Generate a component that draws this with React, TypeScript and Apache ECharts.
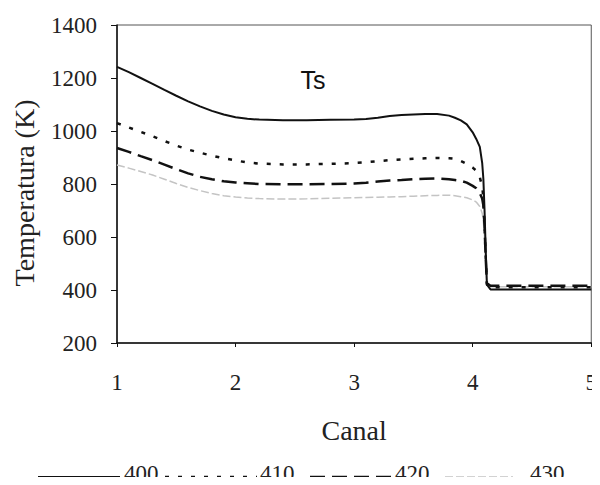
import React, { useEffect, useRef } from "react";
import * as echarts from "echarts";

const canal = [1, 1.1, 1.2, 1.3, 1.4, 1.5, 1.6, 1.7, 1.8, 1.9, 2, 2.1, 2.2, 2.4, 2.6, 2.8, 3, 3.1, 3.2, 3.3, 3.4, 3.5, 3.6, 3.7, 3.8, 3.85, 3.9, 3.95, 4, 4.03, 4.06, 4.08, 4.09, 4.1, 4.11, 4.12, 4.15, 4.3, 5];
const t400 = [1242, 1222, 1200, 1178, 1155, 1133, 1112, 1093, 1076, 1062, 1052, 1046, 1043, 1041, 1041, 1042, 1043, 1045, 1050, 1057, 1060, 1062, 1064, 1064, 1058, 1050, 1040, 1025, 995, 970, 940, 880, 820, 700, 550, 420, 402, 402, 402];
const t410 = [1030, 1013, 997, 980, 962, 945, 930, 918, 907, 897, 889, 881, 877, 874, 874, 876, 879, 882, 886, 890, 893, 895, 897, 898, 897, 895, 887, 876, 862, 850, 826, 790, 750, 640, 520, 420, 410, 410, 410];
const t420 = [936, 921, 905, 890, 873, 856, 840, 827, 818, 810, 806, 803, 800, 799, 799, 800, 802, 805, 809, 813, 815, 818, 820, 821, 818, 815, 812, 805, 793, 784, 766, 745, 720, 640, 520, 425, 416, 416, 416];
const t430 = [872, 860, 847, 834, 818, 802, 787, 775, 764, 756, 751, 747, 745, 743, 744, 746, 748, 749, 750, 751, 752, 754, 756, 757, 758, 756, 752, 748, 740, 732, 715, 690, 660, 600, 500, 420, 412, 412, 412];
const seriesNames = ["400", "410", "420", "430"];
const xTicks = [1, 2, 3, 4, 5];
const yTicks = [200, 400, 600, 800, 1000, 1200, 1400];

const serif = "'Liberation Serif', 'DejaVu Serif', serif";

export default function App() {
  const ref = useRef<HTMLDivElement>(null);
  useEffect(() => {
    if (!ref.current) return;
    const chart = echarts.init(ref.current, undefined, { renderer: "svg" });
    const pairs = (ys: number[]) => canal.map((x, i) => [x, ys[i]]);
    const styles = [
      { color: "#111", width: 2, dash: null as any },
      { color: "#111", width: 2.5, dash: [4, 9] },
      { color: "#111", width: 2.5, dash: [15, 7] },
      { color: "#c4c4c4", width: 1.5, dash: [8, 3] },
    ];
    const data = [t400, t410, t420, t430];
    const legendPos = [
      { x1: 38, x2: 120, tx: 124 },
      { x1: 165, x2: 257, tx: 260 },
      { x1: 310, x2: 392, tx: 395 },
      { x1: 445, x2: 513, tx: 530 },
    ];
    const legendLineY = 477;
    const legendTextY = 473;
    const legendGraphics: any[] = [];
    legendPos.forEach((p, i) => {
      legendGraphics.push({
        type: "line",
        shape: { x1: p.x1, y1: legendLineY, x2: p.x2, y2: legendLineY },
        style: {
          stroke: styles[i].color,
          lineWidth: styles[i].width,
          lineDash: styles[i].dash || undefined,
        },
      });
      legendGraphics.push({
        type: "text",
        x: p.tx,
        y: legendTextY,
        style: {
          text: seriesNames[i],
          font: `23px ${serif}`,
          fill: "#222",
          align: "left",
          verticalAlign: "middle",
        },
      });
    });
    chart.setOption({
      animation: false,
      backgroundColor: "#fff",
      grid: {
        left: 117,
        right: 6,
        top: 25,
        bottom: 142,
        show: true,
        borderColor: "#555",
        borderWidth: 1,
      },
      xAxis: {
        type: "value",
        min: xTicks[0],
        max: xTicks[xTicks.length - 1],
        interval: 1,
        axisLine: { show: true, lineStyle: { color: "#111", width: 1.5 } },
        axisTick: { show: true, length: 4, lineStyle: { color: "#111" } },
        splitLine: { show: false },
        axisLabel: { fontFamily: serif, fontSize: 23, color: "#222", margin: 28 },
        name: "Canal",
        nameLocation: "middle",
        nameGap: 73,
        nameTextStyle: { fontFamily: serif, fontSize: 28, color: "#222" },
      },
      yAxis: {
        type: "value",
        min: yTicks[0],
        max: yTicks[yTicks.length - 1],
        interval: 200,
        axisLine: { show: true, lineStyle: { color: "#111", width: 1.5 } },
        axisTick: { show: true, length: 6, lineStyle: { color: "#111" } },
        splitLine: { show: false },
        axisLabel: {
          fontFamily: serif,
          fontSize: 23,
          color: "#222",
          margin: 20,
          formatter: (v: number) => String(v),
        },
      },
      graphic: [
        {
          type: "text",
          x: 24,
          y: 193,
          rotation: Math.PI / 2,
          style: {
            text: "Temperatura (K)",
            font: `28px ${serif}`,
            fill: "#222",
            align: "center",
            verticalAlign: "middle",
          },
        },
        {
          type: "text",
          x: 313,
          y: 80,
          style: {
            text: "Ts",
            font: "25px 'Liberation Sans', Arial, sans-serif",
            fill: "#111",
            align: "center",
            verticalAlign: "middle",
          },
        },
        ...legendGraphics,
      ],
      series: data.map((ys, i) => ({
        name: seriesNames[i],
        type: "line",
        data: pairs(ys),
        symbol: "none",
        smooth: false,
        lineStyle: {
          color: styles[i].color,
          width: styles[i].width,
          type: styles[i].dash || "solid",
        },
        itemStyle: { color: styles[i].color },
        z: 10 - i,
      })),
    });
    return () => chart.dispose();
  }, []);
  return <div ref={ref} style={{ width: 600, height: 485, margin: -8 }} />;
}
